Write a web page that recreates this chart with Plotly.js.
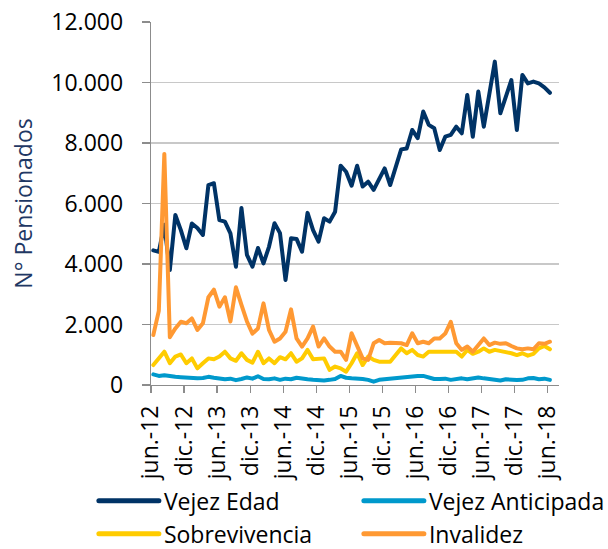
<!DOCTYPE html>
<html>
<head>
<meta charset="utf-8">
<script src="https://cdn.plot.ly/plotly-3.0.1.min.js"></script>
<style>
  html, body { margin: 0; padding: 0; background: #fff; }
  #chart { width: 608px; height: 549px; }
  .js-line { stroke-linejoin: round !important; stroke-linecap: round !important; }
  .legendlines path { stroke-linecap: round !important; stroke-width: 5px !important; }
</style>
</head>
<body>
<div id="chart"></div>
<script>
// Month names for the category labels (jun.-12 ... jun.-18)
const monthNames = ['ene.', 'feb.', 'mar.', 'abr.', 'may.', 'jun.', 'jul.', 'ago.', 'sep.', 'oct.', 'nov.', 'dic.'];
const meses = [];
for (let k = 0; k < 73; k++) {
  const m = (5 + k) % 12;
  const y = 12 + Math.floor((5 + k) / 12);
  meses.push(monthNames[m] + '-' + y);
}

const vejezEdad = [
  4450, 4400, 5300, 3800, 5620, 5120, 4520, 5340, 5190, 4960,
  6610, 6670, 5450, 5400, 5010, 3910, 5850, 4300, 3910, 4530,
  4020, 4570, 5350, 5020, 3470, 4850, 4830, 4410, 5690, 5120,
  4740, 5510, 5400, 5730, 7250, 7050, 6590, 7250, 6560, 6720,
  6450, 6780, 7160, 6610, 7220, 7790, 7820, 8430, 8160, 9040,
  8600, 8490, 7770, 8210, 8270, 8540, 8320, 9590, 8210, 9700,
  8540, 9600, 10690, 8980, 9500, 10080, 8430, 10250, 9970, 10030,
  9970, 9840, 9660
];
const vejezAnticipada = [
  350, 300, 320, 280, 270, 260, 240, 220, 220, 230,
  270, 240, 220, 190, 210, 160, 200, 250, 210, 290,
  200, 190, 220, 170, 210, 190, 240, 230, 190, 170,
  150, 150, 170, 200, 300, 240, 220, 220, 200, 170,
  110, 170, 190, 190, 210, 240, 270, 300, 300, 300,
  240, 200, 200, 210, 170, 190, 220, 190, 220, 250,
  220, 200, 180, 150, 190, 170, 165, 170, 220, 230,
  190, 210, 170
];
const sobrevivencia = [
  660, 880, 1100, 720, 940, 1010, 720, 880, 550, 720,
  880, 850, 940, 1100, 880, 800, 1050, 830, 740, 1100,
  720, 880, 720, 920, 850, 1050, 770, 880, 1160, 850,
  880, 880, 500, 610, 550, 440, 720, 1050, 660, 940,
  830, 770, 770, 770, 990, 1210, 1050, 1160, 990, 940,
  1100, 1100, 1100, 1100, 1100, 1100, 940, 1160, 1030, 1100,
  1210, 1100, 1160, 1130, 1070, 1050, 990, 1050, 970, 1030,
  1210, 1290, 1180
];
const invalidez = [
  1650, 2450, 7640, 1580, 1870, 2090, 2040, 2200, 1820, 2040,
  2900, 3150, 2590, 2900, 2100, 3230, 2650, 2100, 1700, 1870,
  2700, 1820, 1430, 1540, 1760, 2500, 1540, 1270, 1540, 1930,
  1270, 1540, 1270, 1100, 1100, 830, 1710, 1270, 880, 830,
  1380, 1490, 1380, 1400, 1380, 1380, 1320, 1710, 1380, 1430,
  1380, 1540, 1540, 1700, 2090, 1380, 1160, 1270, 1100, 1320,
  1540, 1320, 1400, 1360, 1380, 1290, 1210, 1180, 1210, 1180,
  1380, 1360, 1430
];

const seriesNames = ['Vejez Edad', 'Vejez Anticipada', 'Sobrevivencia', 'Invalidez'];
const seriesColors = ['#003366', '#0099CC', '#FFCC00', '#FF9933'];
const seriesValues = [vejezEdad, vejezAnticipada, sobrevivencia, invalidez];

const xIdx = meses.map((_, i) => i);
const tickIdx = xIdx.filter(i => i % 6 === 0);
const tickOffset = 0.42;

const traces = seriesValues.map((vals, s) => ({
  type: 'scatter',
  mode: 'lines',
  name: seriesNames[s],
  x: xIdx,
  y: vals,
  line: { color: seriesColors[s], width: 4 },
  hoverinfo: 'x+y+name'
}));

const FONT = 'Open Sans, Noto Sans, sans-serif';

const layout = {
  width: 608,
  height: 549,
  margin: { l: 151, r: 49, t: 22, b: 164, autoexpand: false },
  paper_bgcolor: '#ffffff',
  plot_bgcolor: '#ffffff',
  separators: ',.',
  font: { family: FONT, size: 23, color: '#000000' },
  showlegend: true,
  legend: {
    orientation: 'h',
    x: -0.14,
    xanchor: 'left',
    y: -0.26,
    yanchor: 'top',
    itemwidth: 60,
    entrywidth: 190,
    font: { family: FONT, size: 23, color: '#000000' },
    bgcolor: 'rgba(0,0,0,0)',
    traceorder: 'normal'
  },
  xaxis: {
    type: 'linear',
    range: [-tickOffset, 73.65],
    tickmode: 'array',
    tickvals: tickIdx.map(i => i - tickOffset),
    ticktext: tickIdx.map(i => meses[i]),
    tickangle: -90,
    ticks: 'outside',
    ticklen: 7,
    tickcolor: '#8c8c8c',
    tickwidth: 1.3,
    ticklabelstandoff: 3,
    showline: true,
    linecolor: '#8c8c8c',
    linewidth: 1.3,
    showgrid: false,
    zeroline: false,
    tickfont: { family: FONT, size: 23, color: '#000000' },
    fixedrange: true
  },
  yaxis: {
    range: [0, 12000],
    tickmode: 'array',
    tickvals: [0, 2000, 4000, 6000, 8000, 10000, 12000],
    tickformat: ',d',
    ticks: 'outside',
    ticklen: 8,
    tickcolor: '#8c8c8c',
    tickwidth: 1.3,
    ticklabelstandoff: 14,
    showline: true,
    linecolor: '#8c8c8c',
    linewidth: 1.3,
    showgrid: true,
    gridcolor: '#c8c8c8',
    gridwidth: 1.3,
    zeroline: false,
    tickfont: { family: FONT, size: 23, color: '#000000' },
    title: { text: 'N° Pensionados', font: { family: FONT, size: 23, color: '#1F3864' }, standoff: 12 },
    fixedrange: true
  }
};

Plotly.newPlot('chart', traces, layout, { displayModeBar: false, staticPlot: true });
</script>
</body>
</html>
